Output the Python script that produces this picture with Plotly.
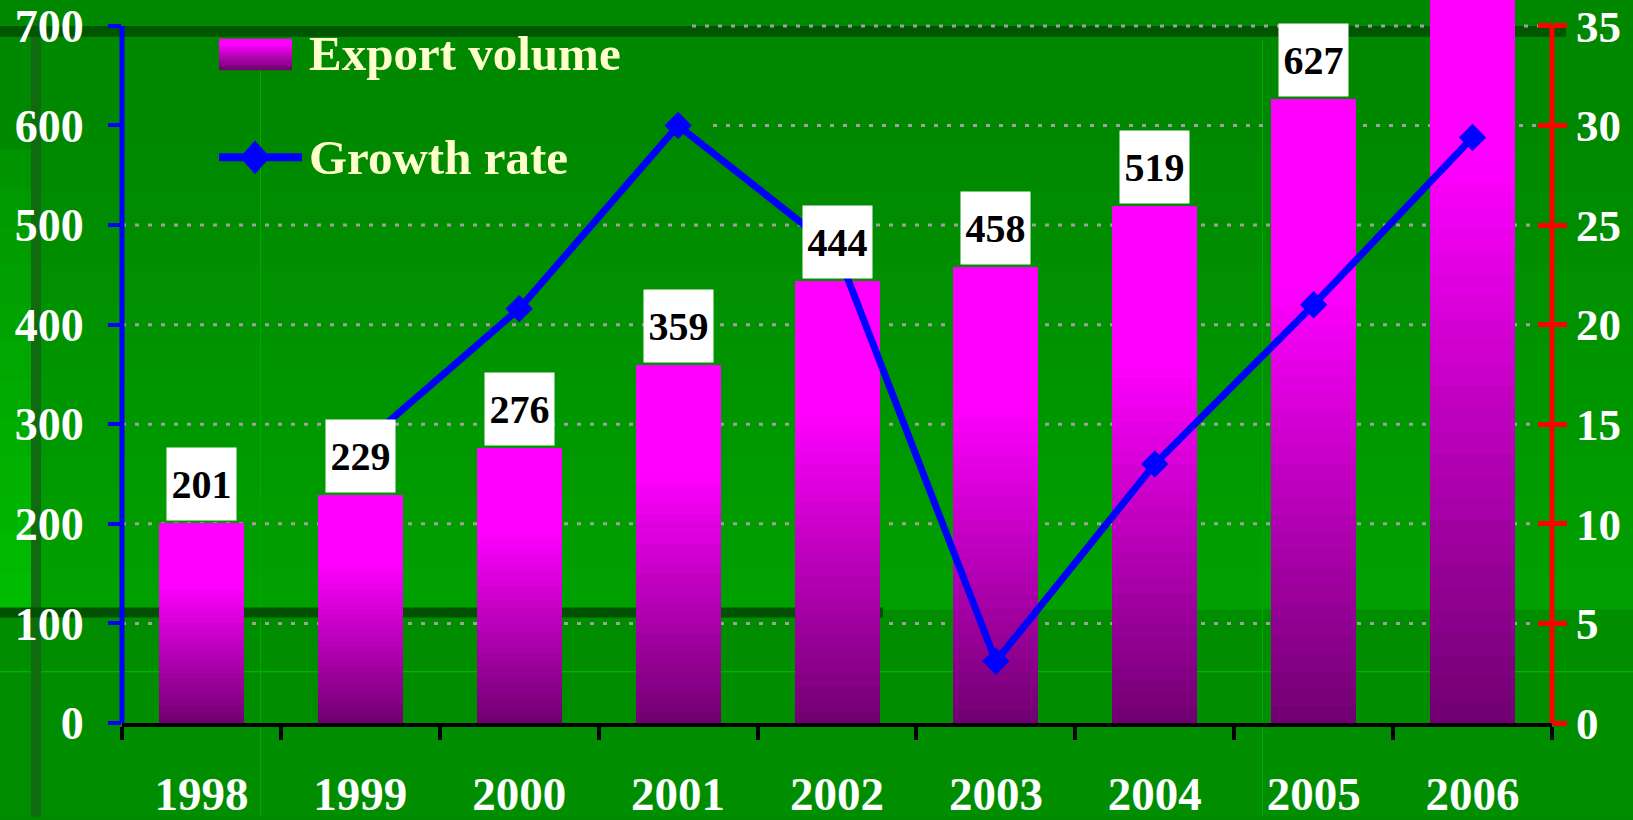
import plotly.graph_objects as go

# ---------------- data ----------------
years = ["1998", "1999", "2000", "2001", "2002", "2003", "2004", "2005", "2006"]
export_volume = [201, 229, 276, 359, 444, 458, 519, 627, 811]
growth_rate = [None, 13.9, 20.8, 30.0, 23.7, 3.1, 13.0, 21.0, 29.4]
left_ticks = [0, 100, 200, 300, 400, 500, 600, 700]
right_ticks = [0, 5, 10, 15, 20, 25, 30, 35]
legend_names = ["Export volume", "Growth rate"]

# ---------------- layout helpers ----------------
W, H = 1633, 820
PL, PR, PT, PB = 122, 1552, 0, 726          # plot area in pixels
LEFT_MAX = 700                               # top of drawn left axis
Y_TOP = LEFT_MAX * (PB - PT) / (PB - 26)     # so that 700 sits at y=26 px
Y2_TOP = 35 * Y_TOP / LEFT_MAX

def X(px):
    return (px - PL) / (PR - PL)

def Y(py):
    return (PB - py) / (PB - PT)

FONT = "Liberation Serif, Times New Roman, serif"

def grad(t):
    """t = 0 at the top of a bar, 1 at the bottom"""
    if t < 0.3:
        c = 255
    else:
        f = (t - 0.3) / 0.7
        c = int(round(255 - f * (255 - 112)))
    return f"rgb({c},0,{c})"

fig = go.Figure()

# ---------------- gradient bars (stacked slices) ----------------
N = 36
for k in range(N):
    t = 1 - (k + 0.5) / N
    fig.add_trace(go.Bar(
        x=years, y=[v / N for v in export_volume],
        marker=dict(color=grad(t), line=dict(width=0)),
        showlegend=False, hoverinfo="skip", name=legend_names[0],
    ))

# ---------------- growth line ----------------
fig.add_trace(go.Scatter(
    x=years, y=growth_rate, yaxis="y2", mode="lines+markers",
    line=dict(color="#0000FF", width=7),
    marker=dict(symbol="diamond", size=21, color="#0000FF"),
    showlegend=False, name=legend_names[1], connectgaps=False, hoverinfo="skip",
))

# ---------------- value labels ----------------
annotations = []
for i, v in enumerate(export_volume):
    if v <= LEFT_MAX:
        annotations.append(dict(
            x=i, y=v, xref="x", yref="y", yanchor="bottom", yshift=2,
            text=f"<b>{v}</b>", showarrow=False,
            font=dict(family=FONT, size=40, color="black"),
            bgcolor="white", width=69, height=72, borderpad=0,
        ))

# ---------------- legend (manual) ----------------
for i, name in enumerate(legend_names):
    annotations.append(dict(
        x=X(307), y=Y([54, 158][i]), xref="paper", yref="paper",
        xanchor="left", yanchor="middle", showarrow=False,
        text=f"<b>{name}</b>",
        font=dict(family=FONT, size=49, color="#FFFFCC"),
    ))

shapes = []
# background decoration
shapes.append(dict(type="rect", xref="paper", yref="paper", layer="below",
                   x0=X(0), x1=X(W), y0=Y(0), y1=Y(H), fillcolor="#008800", line_width=0))
nb = 12
for i in range(nb):
    y0p = 150 + (612 - 150) * i / nb
    y1p = 150 + (612 - 150) * (i + 1) / nb
    g = int(0x88 + (0xA0 - 0x88) * (i + 1) / nb)
    shapes.append(dict(type="rect", xref="paper", yref="paper", layer="below",
                       x0=X(0), x1=X(W), y0=Y(y0p), y1=Y(y1p + 1),
                       fillcolor=f"rgb(0,{g},0)", line_width=0))
    gl = int(0x92 + (0xBC - 0x92) * (i + 1) / nb)
    shapes.append(dict(type="rect", xref="paper", yref="paper", layer="below",
                       x0=X(0), x1=X(31), y0=Y(y0p), y1=Y(y1p + 1),
                       fillcolor=f"rgb(0,{gl},0)", line_width=0))
shapes.append(dict(type="rect", xref="paper", yref="paper", layer="below",
                   x0=X(0), x1=X(W), y0=Y(612), y1=Y(H), fillcolor="#008e00", line_width=0))
shapes.append(dict(type="rect", xref="paper", yref="paper", layer="below",
                   x0=X(0), x1=X(W), y0=Y(674), y1=Y(675), fillcolor="#00c000", line_width=0))
for vx in (260, 1262):
    shapes.append(dict(type="rect", xref="paper", yref="paper", layer="below",
                       x0=X(vx), x1=X(vx + 1), y0=Y(40), y1=Y(H), fillcolor="#00aa00", line_width=0))
shapes.append(dict(type="rect", xref="paper", yref="paper", layer="below",
                   x0=X(31), x1=X(41), y0=Y(20), y1=Y(H), fillcolor="#106a10", line_width=0))
shapes.append(dict(type="rect", xref="paper", yref="paper", layer="below",
                   x0=X(0), x1=X(1566), y0=Y(26), y1=Y(37), fillcolor="#005600", line_width=0))
shapes.append(dict(type="rect", xref="paper", yref="paper", layer="below",
                   x0=X(0), x1=X(883), y0=Y(610), y1=Y(620), fillcolor="#005200", line_width=0))

# dotted gridlines (hidden behind the legend block for the top two)
for v in left_ticks[1:]:
    start = {700: X(692), 600: X(713)}.get(v, 0)
    shapes.append(dict(type="line", xref="paper", yref="y", layer="below",
                       x0=start, x1=1, y0=v, y1=v,
                       line=dict(color="#a0a0a0", width=3, dash="4px,9px")))

# legend swatch (gradient)
ns = 16
for i in range(ns):
    y0p = 39 + (70 - 39) * i / ns
    y1p = 39 + (70 - 39) * (i + 1) / ns
    shapes.append(dict(type="rect", xref="paper", yref="paper", layer="above",
                       x0=X(219), x1=X(292), y0=Y(y0p), y1=Y(y1p + 0.5),
                       fillcolor=grad((i + 0.5) / ns * 0.85 + 0.15), line_width=0))
# legend line symbol
shapes.append(dict(type="line", xref="paper", yref="paper", layer="above",
                   x0=X(219), x1=X(302), y0=Y(158), y1=Y(158),
                   line=dict(color="#0000FF", width=8)))
cx, cy, dx, dy = 255, 158, 15, 17
shapes.append(dict(type="path", xref="paper", yref="paper", layer="above",
                   path=f"M {X(cx - dx)},{Y(cy)} L {X(cx)},{Y(cy - dy)} L {X(cx + dx)},{Y(cy)} L {X(cx)},{Y(cy + dy)} Z",
                   fillcolor="#0000FF", line_width=0))
# axis lines (only up to the top tick)
shapes.append(dict(type="line", xref="paper", yref="y", layer="above",
                   x0=0, x1=0, y0=0, y1=LEFT_MAX, line=dict(color="#0000FF", width=5)))
shapes.append(dict(type="line", xref="paper", yref="y2", layer="above",
                   x0=1, x1=1, y0=0, y1=35, line=dict(color="#FF0000", width=5)))

tickfont = dict(family=FONT, size=46, color="white", weight="bold")

fig.update_layout(
    width=W, height=H, autosize=False,
    margin=dict(l=PL, r=W - PR, t=PT, b=H - PB, pad=0),
    paper_bgcolor="#008800", plot_bgcolor="rgba(0,0,0,0)",
    barmode="stack", bargap=0.465,
    showlegend=False, hovermode=False,
    xaxis=dict(
        type="category", tickson="boundaries", ticks="outside", ticklen=13, tickwidth=4,
        tickcolor="black", showline=True, linecolor="black", linewidth=4,
        showgrid=False, tickfont=dict(tickfont, size=47), ticklabelstandoff=27,
        range=[-0.5, len(years) - 0.5],
    ),
    yaxis=dict(
        range=[0, Y_TOP], tickvals=left_ticks, ticks="outside", ticklen=13, tickwidth=4,
        tickcolor="#0000FF", showline=False, zeroline=False, showgrid=False,
        tickfont=tickfont, ticklabelstandoff=15,
    ),
    yaxis2=dict(
        range=[0, Y2_TOP], tickvals=right_ticks, overlaying="y", side="right", anchor="x",
        ticks="outside", ticklen=14, tickwidth=5, tickcolor="#FF0000",
        showline=False, zeroline=False, showgrid=False, tickfont=dict(tickfont, size=45),
    ),
    yaxis3=dict(
        range=[0, Y2_TOP], tickvals=right_ticks, overlaying="y", side="right", anchor="x",
        ticks="inside", ticklen=14, tickwidth=5, tickcolor="#FF0000",
        showline=False, zeroline=False, showgrid=False, showticklabels=False,
    ),
    shapes=shapes, annotations=annotations,
)
# helper trace so yaxis3 (inner half of the red crossing ticks) is rendered
fig.add_trace(go.Scatter(x=[years[0]], y=[None], yaxis="y3", showlegend=False, hoverinfo="skip"))

fig.write_html("out.html", config={"displayModeBar": False},
               post_script="document.body.style.margin='0px';")
